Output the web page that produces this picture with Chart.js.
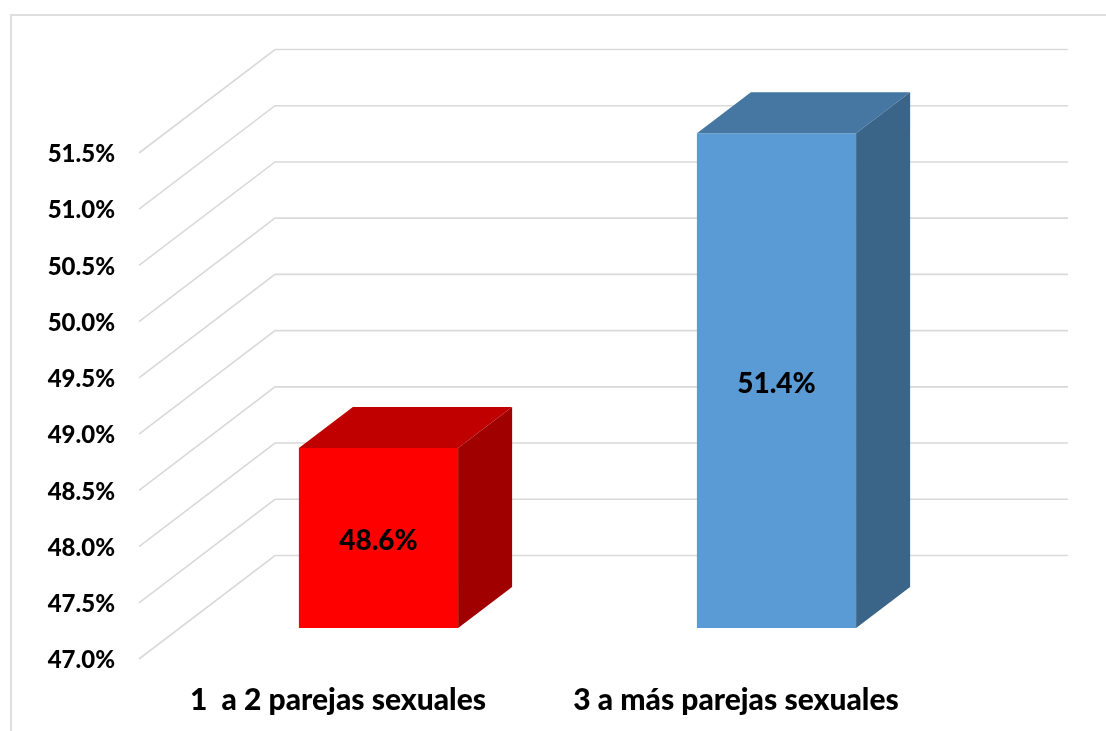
<!DOCTYPE html>
<html><head><meta charset="utf-8">
<style>html,body{margin:0;padding:0;background:#fff}canvas{display:block}</style>
<script src="https://cdn.jsdelivr.net/npm/chart.js@4"></script>
</head><body><canvas id="c" width="1106" height="731"></canvas>
<script>
const categories = ['1  a 2 parejas sexuales', '3 a más parejas sexuales'];
const percentValues = [48.6, 51.4];
const axisMinimum = 47;
const axisMaximum = 51.5;
const axisStep = 0.5;
const frontColors = ['#FF0000', '#5B9BD5'];
const topColors = ['#C00000', '#4677A3'];
const sideColors = ['#A00000', '#3A6488'];
const FONT = 'Lato, Carlito, sans-serif';
const depth = {x: 136, y: 103.5};    // wall depth of the 3D frame
const barShift = {x: 40.5, y: 31};   // bars stand inside the floor
const barDepth = {x: 54, y: 41};

const frame3d = {
  id: 'frame3d',
  beforeDraw(chart) {
    const {ctx, scales: {y}, chartArea: a} = chart;
    ctx.save();
    ctx.strokeStyle = '#DFDFDF'; ctx.lineWidth = 2;
    ctx.beginPath(); ctx.moveTo(11, 731); ctx.lineTo(11, 15); ctx.lineTo(1106, 15); ctx.stroke();
    ctx.strokeStyle = '#D9D9D9'; ctx.lineWidth = 1.6; ctx.lineJoin = 'miter';
    y.ticks.forEach(t => {
      const py = y.getPixelForValue(t.value);
      ctx.beginPath();
      ctx.moveTo(a.left, py);
      ctx.lineTo(a.left + depth.x, py - depth.y);
      ctx.lineTo(a.right + depth.x - 3, py - depth.y);
      ctx.stroke();
    });
    ctx.restore();
  },
  beforeDatasetDraw(chart) {
    chart.ctx.save();
    chart.ctx.translate(barShift.x, -barShift.y);
  },
  afterDatasetDraw(chart, args) {
    const ctx = chart.ctx;
    args.meta.data.forEach((bar, i) => {
      const p = bar.getProps(['x', 'y', 'base', 'width'], true);
      const l = p.x - p.width / 2, r = p.x + p.width / 2;
      ctx.fillStyle = topColors[i];
      ctx.beginPath();
      ctx.moveTo(l, p.y); ctx.lineTo(l + barDepth.x, p.y - barDepth.y);
      ctx.lineTo(r + barDepth.x, p.y - barDepth.y); ctx.lineTo(r, p.y);
      ctx.closePath(); ctx.fill();
      ctx.fillStyle = sideColors[i];
      ctx.beginPath();
      ctx.moveTo(r, p.y); ctx.lineTo(r + barDepth.x, p.y - barDepth.y);
      ctx.lineTo(r + barDepth.x, p.base - barDepth.y); ctx.lineTo(r, p.base);
      ctx.closePath(); ctx.fill();
      ctx.fillStyle = '#000';
      ctx.font = '900 28px ' + FONT;
      ctx.textAlign = 'center'; ctx.textBaseline = 'middle';
      ctx.fillText(percentValues[i].toFixed(1) + '%', p.x, (p.y + p.base) / 2 + 3);
    });
    ctx.restore();
  }
};

new Chart(document.getElementById('c'), {
  type: 'bar',
  data: {
    labels: categories,
    datasets: [{
      data: percentValues,
      base: axisMinimum,
      backgroundColor: frontColors,
      borderWidth: 0,
      categoryPercentage: 1,
      barPercentage: 0.4,
      clip: false
    }]
  },
  plugins: [frame3d],
  options: {
    responsive: false,
    animation: false,
    layout: {padding: {top: 153, right: 171, bottom: 0, left: 0}},
    plugins: {legend: {display: false}, tooltip: {enabled: false}, title: {display: false}},
    scales: {
      x: {
        grid: {display: false, drawTicks: false},
        border: {display: false},
        afterFit(s) { s.height = 72; },
        ticks: {color: '#000', font: {family: FONT, size: 30, weight: '900'}, padding: 23, maxRotation: 0, autoSkip: false}
      },
      y: {
        min: axisMinimum, max: axisMaximum,
        grid: {display: false, drawTicks: false},
        border: {display: false},
        afterFit(s) { s.width = 139; },
        ticks: {stepSize: axisStep, color: '#000', font: {family: FONT, size: 24, weight: '900'}, padding: 24, labelOffset: 1.5,
          callback: v => v.toFixed(1) + '%'}
      }
    }
  }
});
</script></body></html>
